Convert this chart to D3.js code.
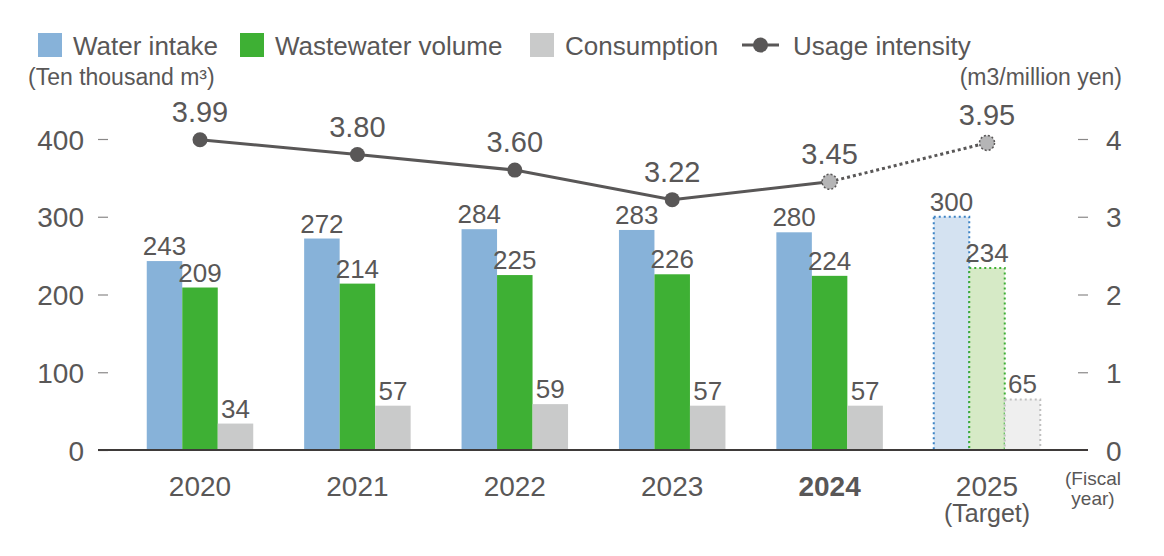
<!DOCTYPE html>
<html>
<head>
<meta charset="utf-8">
<script src="https://cdn.jsdelivr.net/npm/d3@7"></script>
<style>
  body { margin: 0; background: #fff; }
  svg text { font-family: "Liberation Sans", Arial, Helvetica, sans-serif; fill: #595757; }
</style>
</head>
<body>
<div id="chart"></div>
<script>
// data
const years = ["2020", "2021", "2022", "2023", "2024", "2025"];
const waterIntake = [243, 272, 284, 283, 280, 300];
const wastewater = [209, 214, 225, 226, 224, 234];
const consumption = [34, 57, 59, 57, 57, 65];
const intensity = [3.99, 3.80, 3.60, 3.22, 3.45, 3.95];
const leftTicks = [0, 100, 200, 300, 400];
const rightTicks = [0, 1, 2, 3, 4];
const targetYear = "2025";
const boldYear = "2024";

const series = [
  { key: "Water intake", values: waterIntake, color: "#87b2d9", light: "#d4e2f1", edge: "#3b82c4" },
  { key: "Wastewater volume", values: wastewater, color: "#3eb034", light: "#d6eac6", edge: "#3eb034" },
  { key: "Consumption", values: consumption, color: "#c9caca", light: "#efefef", edge: "#c0c0c0" }
];

const width = 1164, height = 556;
const textColor = "#595757";

const svg = d3.select("#chart").append("svg")
  .attr("width", width)
  .attr("height", height);

// scales
const x = d3.scaleBand().domain(years).range([121.3, 1065.7]);
const xSub = d3.scaleBand().domain(series.map(s => s.key)).range([-53.25, 53.25]);
const y = d3.scaleLinear().domain([0, 400]).range([450, 139]);
const y2 = d3.scaleLinear().domain([0, 4]).range([450, 139]);
const cx = d => x(d) + x.bandwidth() / 2;

// left axis
const leftAxis = svg.append("g")
  .attr("transform", "translate(108,0)")
  .call(d3.axisLeft(y).tickValues(leftTicks).tickSize(10).tickPadding(14));
leftAxis.select(".domain").remove();
leftAxis.selectAll("line").attr("stroke", "#8a8888").attr("stroke-width", 1.2);
leftAxis.selectAll("text").attr("font-size", 28).attr("dy", "0.36em")
  .style("font-family", "'Liberation Sans', Arial, sans-serif").attr("fill", textColor);

// right axis
const rightAxis = svg.append("g")
  .attr("transform", "translate(1078,0)")
  .call(d3.axisRight(y2).tickValues(rightTicks).tickFormat(d3.format("d")).tickSize(10).tickPadding(18));
rightAxis.select(".domain").remove();
rightAxis.selectAll("line").attr("stroke", "#8a8888").attr("stroke-width", 1.2)
  .attr("opacity", d => d === 0 ? 0 : 1);
rightAxis.selectAll("text").attr("font-size", 28).attr("dy", "0.36em")
  .style("font-family", "'Liberation Sans', Arial, sans-serif").attr("fill", textColor);

// bars
series.forEach(s => {
  const g = svg.append("g");
  g.selectAll("rect")
    .data(years.map((yr, i) => ({ yr, v: s.values[i] })))
    .enter()
    .append("rect")
    .attr("x", d => cx(d.yr) + xSub(s.key))
    .attr("y", d => y(d.v))
    .attr("width", xSub.bandwidth())
    .attr("height", d => y(0) - y(d.v))
    .attr("fill", d => d.yr === targetYear ? s.light : s.color)
    .attr("stroke", d => d.yr === targetYear ? s.edge : "none")
    .attr("stroke-width", 2)
    .attr("stroke-dasharray", "2,3");

  g.selectAll("text")
    .data(years.map((yr, i) => ({ yr, v: s.values[i] })))
    .enter()
    .append("text")
    .attr("x", d => cx(d.yr) + xSub(s.key) + xSub.bandwidth() / 2)
    .attr("y", d => y(d.v) - 6)
    .attr("text-anchor", "middle")
    .attr("font-size", 26)
    .text(d => d.v);
});

// baseline
svg.append("line")
  .attr("x1", 98).attr("x2", 1088)
  .attr("y1", y(0)).attr("y2", y(0))
  .attr("stroke", "#3e3a39").attr("stroke-width", 2);

// usage intensity line
const pts = years.map((yr, i) => ({ yr, v: intensity[i] }));
const line = d3.line().x(d => cx(d.yr)).y(d => y2(d.v));
svg.append("path")
  .attr("d", line(pts.slice(0, 5)))
  .attr("fill", "none").attr("stroke", textColor).attr("stroke-width", 3);
svg.append("path")
  .attr("d", line(pts.slice(4)))
  .attr("fill", "none").attr("stroke", textColor).attr("stroke-width", 3)
  .attr("stroke-dasharray", "3,3");

svg.append("g").selectAll("circle")
  .data(pts)
  .enter()
  .append("circle")
  .attr("cx", d => cx(d.yr))
  .attr("cy", d => y2(d.v))
  .attr("r", 7.5)
  .attr("fill", (d, i) => i >= 4 ? "#b5b5b6" : textColor)
  .attr("stroke", (d, i) => i >= 4 ? textColor : "none")
  .attr("stroke-width", 1.5)
  .attr("stroke-dasharray", "2,2");

svg.append("g").selectAll("text")
  .data(pts)
  .enter()
  .append("text")
  .attr("x", d => cx(d.yr))
  .attr("y", d => y2(d.v) - 18)
  .attr("text-anchor", "middle")
  .attr("font-size", 29)
  .text(d => d.v.toFixed(2));

// x labels
svg.append("g").selectAll("text")
  .data(years)
  .enter()
  .append("text")
  .attr("x", d => cx(d))
  .attr("y", 496)
  .attr("text-anchor", "middle")
  .attr("font-size", 28)
  .attr("font-weight", d => d === boldYear ? "bold" : "normal")
  .text(d => d);
svg.append("text")
  .attr("x", cx(targetYear)).attr("y", 522)
  .attr("text-anchor", "middle").attr("font-size", 25)
  .text("(Target)");
svg.append("text")
  .attr("x", 1093).attr("y", 485)
  .attr("text-anchor", "middle").attr("font-size", 19)
  .text("(Fiscal");
svg.append("text")
  .attr("x", 1093).attr("y", 505)
  .attr("text-anchor", "middle").attr("font-size", 19)
  .text("year)");

// axis titles
svg.append("text")
  .attr("x", 28).attr("y", 85)
  .attr("font-size", 23)
  .text("(Ten thousand m³)");
svg.append("text")
  .attr("x", 1122).attr("y", 85)
  .attr("text-anchor", "end")
  .attr("font-size", 23)
  .text("(m3/million yen)");

// legend
const legendX = [38, 240, 530];
series.forEach((s, i) => {
  svg.append("rect")
    .attr("x", legendX[i]).attr("y", 33)
    .attr("width", 24).attr("height", 24)
    .attr("fill", s.color);
  svg.append("text")
    .attr("x", legendX[i] + 35).attr("y", 55)
    .attr("font-size", 26)
    .text(s.key);
});
svg.append("line")
  .attr("x1", 742).attr("x2", 779).attr("y1", 45).attr("y2", 45)
  .attr("stroke", textColor).attr("stroke-width", 3);
svg.append("circle")
  .attr("cx", 760.5).attr("cy", 45).attr("r", 7.5)
  .attr("fill", textColor);
svg.append("text")
  .attr("x", 793).attr("y", 55)
  .attr("font-size", 26)
  .text("Usage intensity");
</script>
</body>
</html>
